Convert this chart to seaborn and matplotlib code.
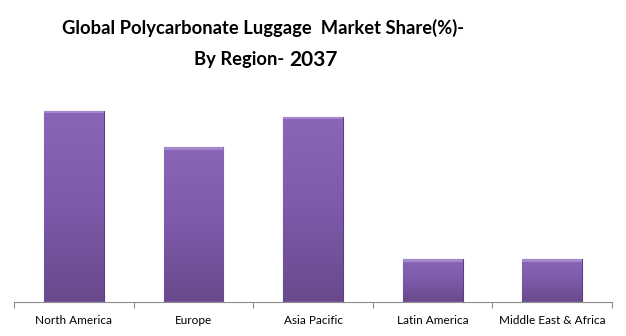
import numpy as np
import pandas as pd
import matplotlib
matplotlib.use("Agg")
import matplotlib.pyplot as plt
import seaborn as sns
from matplotlib.colors import LinearSegmentedColormap

regions = ["North America", "Europe", "Asia Pacific", "Latin America", "Middle East & Africa"]
shares = [31.1, 25.1, 30.1, 6.9, 6.9]

sns.set_theme(style="white")
plt.rcParams['font.family'] = ['Lato', 'DejaVu Sans']

W, H = 626, 336
fig = plt.figure(figsize=(W/100, H/100), dpi=100)
ax = fig.add_axes([14/W, 34.5/H, 598/W, 221.5/H])

df = pd.DataFrame({"region": regions, "share": shares})
sns.barplot(data=df, x="region", y="share", ax=ax, color="#7b58a8",
            width=0.5, edgecolor="#5a3f7c", linewidth=0.8, saturation=1)

cmap = LinearSegmentedColormap.from_list("g", ["#684a8c", "#7d5aaa", "#8a66b8"])
grad = np.linspace(0, 1, 256).reshape(-1, 1)
for p in list(ax.patches):
    x0, y0 = p.get_x(), p.get_y()
    w, h = p.get_width(), p.get_height()
    im = ax.imshow(grad, cmap=cmap, aspect="auto", origin="lower",
                   extent=(x0, x0 + w, y0, y0 + h), zorder=p.get_zorder() + 0.1)
    im.set_clip_path(p)
    ax.add_patch(plt.Rectangle((x0, y0 + h - 0.4), w, 0.4, facecolor="#a487cc",
                               edgecolor="none", zorder=p.get_zorder() + 0.2))
ax.set_xlim(-0.5, len(regions) - 0.5)
ax.set_ylim(0, 36.1)

for s in ["top", "right", "left"]:
    ax.spines[s].set_visible(False)
ax.spines["bottom"].set_color("#8c8c8c")
ax.spines["bottom"].set_linewidth(0.8)
ax.set_yticks([])
ax.set_xlabel("")
ax.set_ylabel("")
ax.set_xticks(np.arange(-0.5, len(regions), 1.0), minor=True)
ax.tick_params(axis="x", which="minor", length=4, color="#8c8c8c", width=0.8, bottom=True)
ax.tick_params(axis="x", which="major", length=0, pad=10, labelsize=8.5, labelcolor="#000000")

fig.text(263/W, 1 - 28/H, "Global Polycarbonate Luggage  Market Share(%)-", ha="center",
         va="center", fontsize=13.2, fontweight="bold", color="#000000")
fig.text(284/W, 1 - 59/H, "By Region-", ha="right", va="center",
         fontsize=13.2, fontweight="bold", color="#000000")
fig.text(289/W, 1 - 60/H, "2037", ha="left", va="center",
         fontsize=15, fontweight="bold", color="#000000")

fig.savefig("out.png", dpi=100)
